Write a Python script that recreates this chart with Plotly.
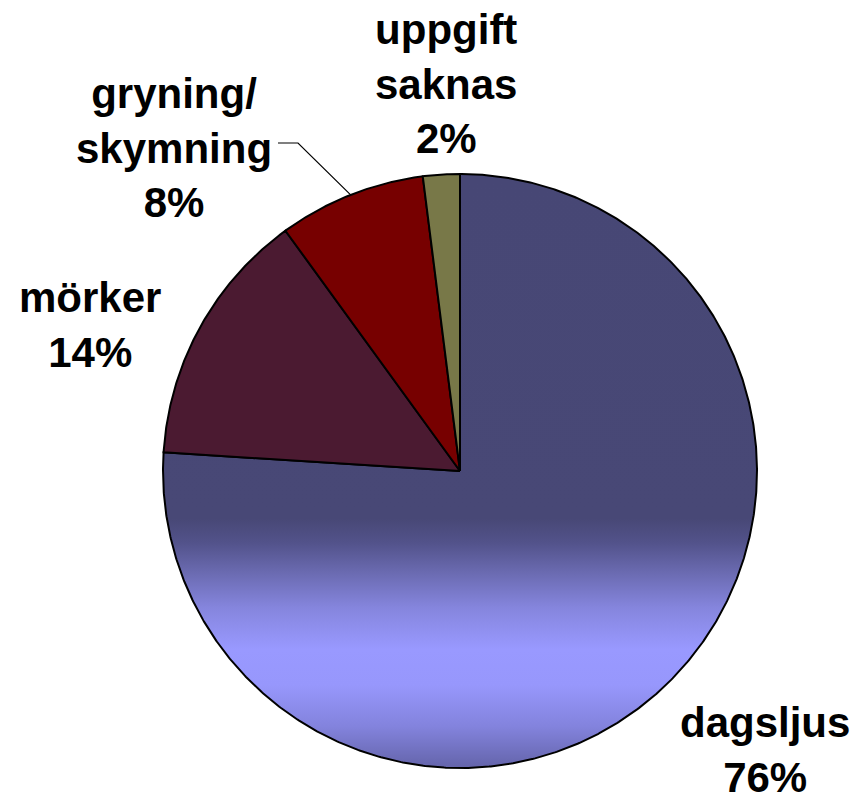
import numpy as np
import plotly.graph_objects as go

# Share of cases by light condition (percent)
categories = ["dagsljus", "mörker", "gryning/<br>skymning", "uppgift<br>saknas"]
shares = [76, 14, 8, 2]

# Slice fills; the first slice uses a vertical gradient instead
slice_colors = [None, "#4B1A31", "#770000", "#787848"]
daylight_scale = [
    [0.00, "#6464AA"],
    [0.07, "#8383DD"],
    [0.14, "#9797FC"],
    [0.20, "#9999FF"],
    [0.27, "#8585DD"],
    [0.33, "#6A6AB0"],
    [0.38, "#52528A"],
    [0.42, "#484876"],
    [1.00, "#474775"],
]

# Layout: one axis unit = one pixel, pie centred at the origin
W, H = 855, 803
CX, CY = 460, 471          # pie centre in page pixels
R = 297                    # pie radius

# Label block centres relative to the pie centre (x right, y up)
label_pos = {
    "dagsljus": (305, -279),
    "mörker": (-370, 146),
    "gryning/<br>skymning": (-286, 323),
    "uppgift<br>saknas": (-14, 387),
}
leader_start = (-182, 328)
leader_elbow = (-162, 328)

fig = go.Figure()

total = float(sum(shares))
angle = 0.0
mid_angles = {}
for name, val, col in zip(categories, shares, slice_colors):
    span = 360.0 * val / total
    th = np.radians(np.linspace(angle, angle + span, max(int(span * 3), 3)))
    xs = np.concatenate([[0.0], R * np.sin(th), [0.0]])
    ys = np.concatenate([[0.0], R * np.cos(th), [0.0]])
    kw = dict(fill="toself")
    if col is None:
        kw["fillgradient"] = dict(type="vertical", colorscale=daylight_scale,
                                  start=-R, stop=R)
    else:
        kw["fillcolor"] = col
    fig.add_trace(go.Scatter(
        x=xs, y=ys, mode="lines",
        line=dict(color="black", width=2),
        hoverinfo="skip", showlegend=False, **kw,
    ))
    mid_angles[name] = angle + span / 2.0
    angle += span

# Leader line for the dawn/dusk label, ending on the slice's mid-angle
m = np.radians(mid_angles["gryning/<br>skymning"])
fig.add_trace(go.Scatter(
    x=[leader_start[0], leader_elbow[0], R * np.sin(m)],
    y=[leader_start[1], leader_elbow[1], R * np.cos(m)],
    mode="lines", line=dict(color="black", width=1.2),
    hoverinfo="skip", showlegend=False,
))

for name, val in zip(categories, shares):
    lx, ly = label_pos[name]
    fig.add_annotation(
        x=lx, y=ly, xref="x", yref="y",
        text=f"{name}<br>{val}%",
        showarrow=False, xanchor="center", yanchor="middle", align="center",
        font=dict(family="Liberation Sans, Arial, sans-serif", size=42,
                  color="black", weight="bold"),
    )

fig.update_layout(
    width=W, height=H,
    margin=dict(l=0, r=0, t=0, b=0),
    paper_bgcolor="white", plot_bgcolor="white",
    xaxis=dict(range=[-CX, W - CX], visible=False, fixedrange=True),
    yaxis=dict(range=[-(H - CY), CY], visible=False, fixedrange=True),
)

fig.write_html("out.html")
